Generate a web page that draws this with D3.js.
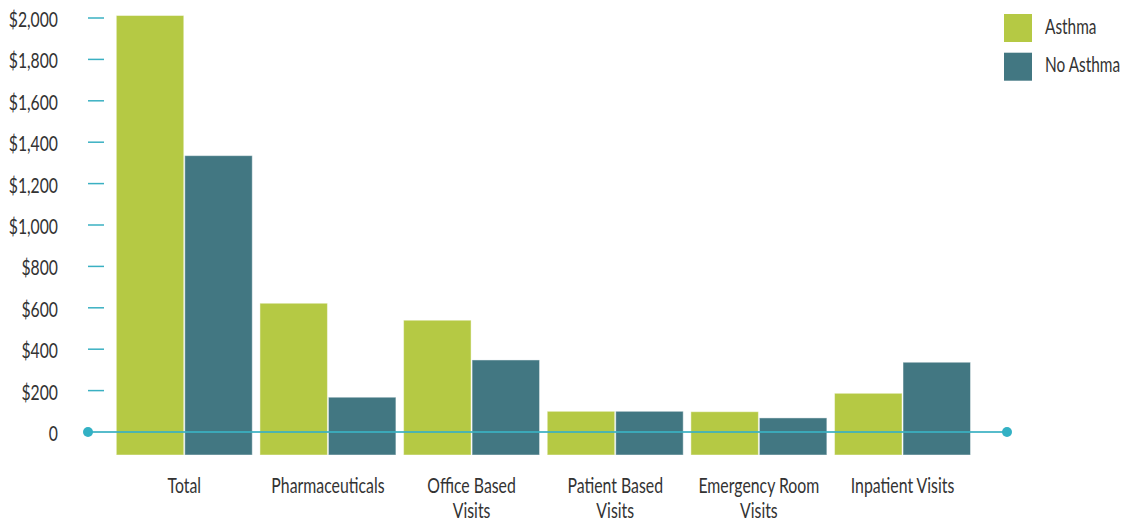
<!DOCTYPE html>
<html><head><meta charset="utf-8">
<script src="https://cdn.jsdelivr.net/npm/d3@7"></script>
<style>
body{margin:0;background:#fff;}
text{font-family:Lato,"DejaVu Sans",sans-serif;fill:#333;}
</style></head>
<body><svg id="c" width="1127" height="525"></svg>
<script>
const categories = ["Total","Pharmaceuticals","Office Based Visits","Patient Based Visits","Emergency Room Visits","Inpatient Visits"];
const categoryLines = [["Total"],["Pharmaceuticals"],["Office Based","Visits"],["Patient Based","Visits"],["Emergency Room","Visits"],["Inpatient Visits"]];
const seriesNames = ["Asthma","No Asthma"];
const asthma = [2012, 622, 540, 100, 98, 187];
const noAsthma = [1335, 168, 348, 100, 68, 337];
const yTicks = [0,200,400,600,800,1000,1200,1400,1600,1800,2000];
const colors = ["#b5c944","#427782"];
const SX = 0.72; // condensed look
const SXY = 0.75;
const SXL = 0.70;

const svg = d3.select("#c");
const y = d3.scaleLinear().domain([0,2000]).range([432,18]);
const x0 = d3.scaleBand().domain(categories).range([116.3, 970.5]).paddingInner(0.0536).paddingOuter(0);
const x1 = d3.scaleBand().domain(seriesNames).range([0, x0.bandwidth()]).paddingInner(0.0147);
const color = d3.scaleOrdinal().domain(seriesNames).range(colors);
const barBottom = y(0) + 23;

const data = categories.map((c,i)=>({cat:c, vals:[{s:"Asthma",v:asthma[i]},{s:"No Asthma",v:noAsthma[i]}]}));

// y axis labels
const yAxis = d3.axisLeft(y).tickValues(yTicks).tickSize(0).tickPadding(0)
  .tickFormat(d => d===0 ? "0" : "$" + d3.format(",")(d));
const ga = svg.append("g").attr("transform","translate(58,0)").call(yAxis);
ga.select(".domain").remove();
ga.selectAll("text").attr("font-size",21).attr("fill","#333").attr("dy","0.4em")
  .attr("transform",`scale(${SXY},1)`)
  .style("font-family",'Lato,"DejaVu Sans",sans-serif');
svg.append("g").selectAll("line").data(yTicks.filter(d=>d>0)).join("line")
  .attr("x1",88).attr("x2",104).attr("y1",d=>y(d)).attr("y2",d=>y(d))
  .attr("stroke","#3ab0c2").attr("stroke-width",1.5);

// bars
const g = svg.append("g").selectAll("g").data(data).join("g")
  .attr("transform",d=>`translate(${x0(d.cat)},0)`);
g.selectAll("rect").data(d=>d.vals).join("rect")
  .attr("x",d=>x1(d.s)).attr("width",x1.bandwidth())
  .attr("y",d=>y(d.v)).attr("height",d=>barBottom - y(d.v))
  .attr("fill",d=>color(d.s))
  .attr("stroke","#ffffff").attr("stroke-opacity",0.45).attr("stroke-width",1);

// zero line with dots
svg.append("line").attr("x1",88).attr("x2",1007).attr("y1",y(0)).attr("y2",y(0))
  .attr("stroke","#3ab0c2").attr("stroke-width",2).attr("stroke-opacity",0.85);
svg.selectAll("circle.end").data([88,1007]).join("circle")
  .attr("cx",d=>d).attr("cy",y(0)).attr("r",5).attr("fill","#33b1c4");

// x labels
const xl = svg.append("g").selectAll("g").data(categories).join("g")
  .attr("transform",d=>`translate(${x0(d)+x0.bandwidth()/2},493) scale(${SX},1)`);
xl.append("text").attr("text-anchor","middle").attr("font-size",22)
  .each(function(d,i){
    const t = d3.select(this);
    categoryLines[i].forEach((ln,j)=>{
      t.append("tspan").attr("x",0).attr("dy", j===0?0:25).text(ln);
    });
  });

// legend
const lg = svg.append("g").selectAll("g").data(seriesNames).join("g")
  .attr("transform",(d,i)=>`translate(1004,${14+i*38.7})`);
lg.append("rect").attr("width",28).attr("height",28).attr("fill",d=>color(d));
lg.append("text").attr("transform",`translate(41,19.5) scale(${SXL},1)`)
  .attr("font-size",22).text(d=>d);
</script></body></html>
